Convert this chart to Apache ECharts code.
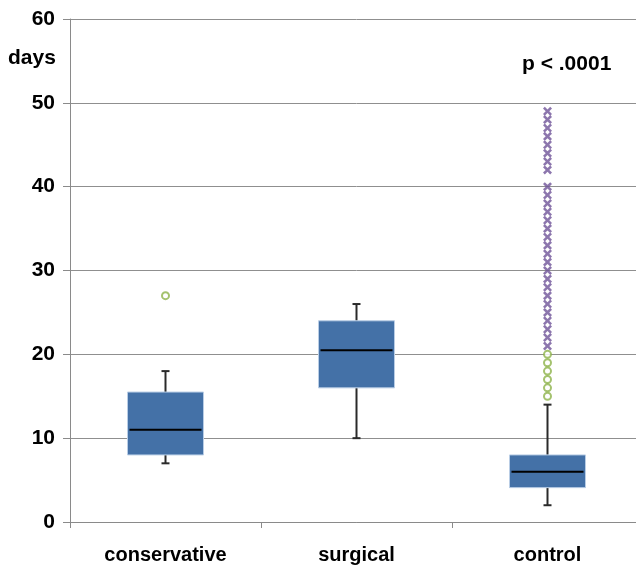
<!DOCTYPE html>
<html><head><meta charset="utf-8">
<script src="https://cdn.jsdelivr.net/npm/echarts@6/dist/echarts.min.js"></script>
<style>html,body{margin:0;padding:0;background:#fff;overflow:hidden}#c{width:643px;height:566px}</style>
</head><body><div id="c"></div>
<script>
const categories = ['conservative', 'surgical', 'control'];
// [min, Q1, median, Q3, max]
const boxStats = [
  [7, 8, 11, 15.5, 18],
  [10, 16, 20.5, 24, 26],
  [2, 4.1, 6, 8, 14]
];
// mild outliers (circles): [categoryIndex, value]
const mildOutliers = [
  [0, 27],
  [2, 15], [2, 16], [2, 17], [2, 18], [2, 19], [2, 20]
];
// extreme outliers (crosses)
const extremeOutliers = [
  [2, 21], [2, 22], [2, 23], [2, 24], [2, 25], [2, 26], [2, 27], [2, 28], [2, 29], [2, 30],
  [2, 31], [2, 32], [2, 33], [2, 34], [2, 35], [2, 36], [2, 37], [2, 38], [2, 39], [2, 40],
  [2, 42], [2, 43], [2, 44], [2, 45], [2, 46], [2, 47], [2, 48], [2, 49]
];
const yTicks = [0, 10, 20, 30, 40, 50, 60];

const boxData = boxStats.map((s, i) => [i].concat(s));
const FONT = '"Liberation Sans", Arial, Helvetica, sans-serif';

const chart = echarts.init(document.getElementById('c'));
chart.setOption({
  animation: false,
  grid: { left: 70, top: 19, right: 0, bottom: 44, containLabel: false },
  xAxis: {
    type: 'category', data: categories,
    axisLine: { lineStyle: { color: '#8a8a8a', width: 1 } },
    axisTick: { show: true, length: 6, alignWithLabel: false, lineStyle: { color: '#8a8a8a' } },
    axisLabel: { color: '#000', fontWeight: 'bold', fontSize: 20, fontFamily: FONT, margin: 23 },
    splitLine: { show: false }
  },
  yAxis: {
    type: 'value', min: yTicks[0], max: yTicks[yTicks.length - 1], interval: 10,
    axisLine: { show: true, lineStyle: { color: '#8a8a8a', width: 1 } },
    axisTick: { show: true, length: 7, lineStyle: { color: '#8a8a8a' } },
    axisLabel: { color: '#000', fontWeight: 'bold', fontSize: 21, fontFamily: FONT, margin: 15 },
    splitLine: { show: true, lineStyle: { color: '#8f8f8f', width: 1 } }
  },
  graphic: [
    { type: 'text', left: 8, top: 48, style: { text: 'days', fill: '#000', font: 'bold 21px ' + FONT } },
    { type: 'text', left: 522, top: 54, style: { text: 'p < .0001', fill: '#000', font: 'bold 21px ' + FONT } }
  ],
  series: [
    {
      type: 'custom',
      data: boxData,
      encode: { x: 0, y: [1, 2, 3, 4, 5] },
      z: 3,
      renderItem: function (params, api) {
        const c = api.value(0);
        const pMin = api.coord([c, api.value(1)]);
        const pQ1 = api.coord([c, api.value(2)]);
        const pMed = api.coord([c, api.value(3)]);
        const pQ3 = api.coord([c, api.value(4)]);
        const pMax = api.coord([c, api.value(5)]);
        const x = pMin[0];
        const hw = 38, cw = 4;
        const ws = { stroke: '#2a2a2a', lineWidth: 2 };
        return {
          type: 'group',
          children: [
            { type: 'line', shape: { x1: x, y1: pMin[1], x2: x, y2: pQ1[1] }, style: ws },
            { type: 'line', shape: { x1: x, y1: pQ3[1], x2: x, y2: pMax[1] }, style: ws },
            { type: 'line', shape: { x1: x - cw, y1: pMin[1], x2: x + cw, y2: pMin[1] }, style: ws },
            { type: 'line', shape: { x1: x - cw, y1: pMax[1], x2: x + cw, y2: pMax[1] }, style: ws },
            { type: 'rect', shape: { x: x - hw, y: pQ3[1], width: 2 * hw, height: pQ1[1] - pQ3[1] },
              style: { fill: '#4471a7', stroke: '#b9cde5', lineWidth: 1 } },
            { type: 'line', shape: { x1: x - hw + 2, y1: pMed[1], x2: x + hw - 2, y2: pMed[1] },
              style: { stroke: '#000', lineWidth: 2 } }
          ]
        };
      }
    },
    {
      type: 'scatter', data: mildOutliers, z: 4,
      symbol: 'emptyCircle', symbolSize: 7,
      itemStyle: { color: '#8db34a', borderColor: '#8db34a', borderWidth: 1.8 }
    },
    {
      type: 'scatter', data: extremeOutliers, z: 4,
      symbol: 'path://M0,2L2,0L5,3L8,0L10,2L7,5L10,8L8,10L5,7L2,10L0,8L3,5Z',
      symbolSize: 9,
      itemStyle: { color: '#6f5499' }
    }
  ]
});
</script></body></html>
